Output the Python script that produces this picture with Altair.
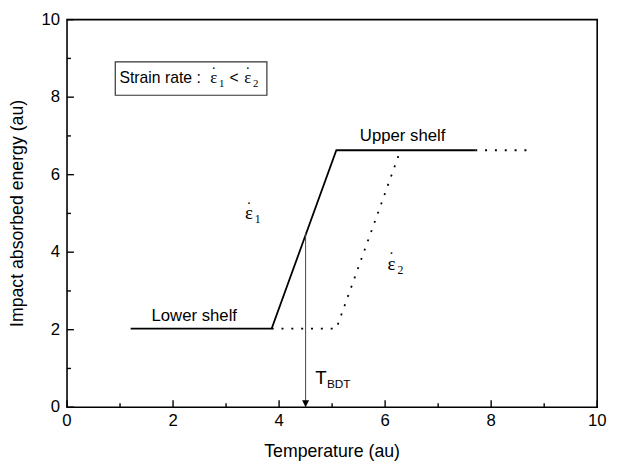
import altair as alt
import pandas as pd

# ---- data ----
solid_x = [1.2, 3.86, 5.08, 7.7]
solid_y = [2.03, 2.03, 6.63, 6.63]
dot_x = [3.86, 5.08, 6.29]
dot_y = [2.03, 2.03, 6.63]
dot2_x = [7.7, 8.8]
dot2_y = [6.63, 6.63]

tbdt_x = 4.5
tbdt_top = 4.5

all_ticks = [0, 1, 2, 3, 4, 5, 6, 7, 8, 9, 10]

x_title = ["Temperature (au)"]
y_title = ["Impact absorbed energy (au)"]

shelf_labels = ["Lower shelf", "Upper shelf"]
shelf_x = [2.4, 6.33]
shelf_y = [2.36, 7.0]

eps_x = [3.43, 6.12]
eps_y = [5.0, 3.7]
eps_sub = ["1", "2"]

box_x = [0.91, 3.77]
box_y = [8.05, 8.91]

W, H = 539, 394
FONT = "Liberation Sans"
SERIF = "Liberation Serif"

xs = alt.Scale(domain=[0, 10], nice=False)
ys = alt.Scale(domain=[0, 10], nice=False)
X = alt.X("x:Q", scale=xs, axis=None)
Y = alt.Y("y:Q", scale=ys, axis=None)

df_solid = pd.DataFrame({"x": solid_x, "y": solid_y, "o": range(len(solid_x))})
df_dot = pd.DataFrame({"x": dot_x, "y": dot_y, "o": range(len(dot_x))})
df_dot2 = pd.DataFrame({"x": dot2_x, "y": dot2_y, "o": range(len(dot2_x))})

solid = alt.Chart(df_solid).mark_line(color="black", strokeWidth=1.8).encode(
    x=X, y=Y, order="o:Q")
dotted = alt.Chart(df_dot).mark_line(color="black", strokeWidth=1.8, strokeDash=[2, 8]).encode(
    x=X, y=Y, order="o:Q")
dotted2 = alt.Chart(df_dot2).mark_line(color="black", strokeWidth=1.8, strokeDash=[2, 8]).encode(
    x=X, y=Y, order="o:Q")

# arrow T_BDT
df_arrow = pd.DataFrame({"x": [tbdt_x], "y": [tbdt_top], "y2": [0.0]})
arrow = alt.Chart(df_arrow).mark_rule(color="#444", strokeWidth=1).encode(
    x=X, y=Y, y2="y2:Q")
head = alt.Chart(pd.DataFrame({"x": [tbdt_x], "y": [0.0]})).mark_point(
    shape="M-1,-2L1,-2L0,0Z", filled=True, color="black", size=50, opacity=1).encode(
    x=X, y=Y)
df_t = pd.DataFrame({"x": [4.68], "y": [0.76]})
t_main = alt.Chart(df_t).mark_text(text="T", font=FONT, fontSize=19, align="left",
                                   baseline="middle", color="black").encode(x=X, y=Y)
t_sub = alt.Chart(df_t).mark_text(text="BDT", font=FONT, fontSize=12, align="left",
                                  baseline="middle", color="black", dx=12, dy=6).encode(x=X, y=Y)

# shelf labels
df_shelf = pd.DataFrame({"x": shelf_x, "y": shelf_y, "t": shelf_labels})
shelf = alt.Chart(df_shelf).mark_text(font=FONT, fontSize=17, color="black",
                                      baseline="middle").encode(x=X, y=Y, text="t:N")

# epsilon labels
df_eps = pd.DataFrame({"x": eps_x, "y": eps_y, "s": eps_sub})
eps = alt.Chart(df_eps).mark_text(text="ε", font=SERIF, fontSize=19, color="black",
                                  baseline="middle").encode(x=X, y=Y)
eps_dot = alt.Chart(df_eps).mark_text(text="·", font=SERIF, fontSize=15, color="black",
                                      baseline="middle", dy=-11).encode(x=X, y=Y)
eps_s = alt.Chart(df_eps).mark_text(font=SERIF, fontSize=12, color="black",
                                    baseline="middle", dx=9, dy=6).encode(x=X, y=Y, text="s:N")

# legend box
df_box = pd.DataFrame({"x": [box_x[0]], "x2": [box_x[1]], "y": [box_y[0]], "y2": [box_y[1]]})
box = alt.Chart(df_box).mark_rect(fill="white", stroke="#333", strokeWidth=1.2).encode(
    x=X, x2="x2:Q", y=Y, y2="y2:Q")
ly = (box_y[0] + box_y[1]) / 2
df_leg = pd.DataFrame({"x": [box_x[0] + 0.08], "y": [ly]})
leg_txt = alt.Chart(df_leg).mark_text(text="Strain rate :", font=FONT, fontSize=16,
                                      align="left", baseline="middle", color="black").encode(x=X, y=Y)
df_leps = pd.DataFrame({"x": [2.77, 3.41], "y": [ly, ly], "s": eps_sub})
leg_eps = alt.Chart(df_leps).mark_text(text="ε", font=SERIF, fontSize=17, color="black",
                                       baseline="middle").encode(x=X, y=Y)
leg_dot = alt.Chart(df_leps).mark_text(text="·", font=SERIF, fontSize=14, color="black",
                                       baseline="middle", dy=-10).encode(x=X, y=Y)
leg_sub = alt.Chart(df_leps).mark_text(font=SERIF, fontSize=11, color="black",
                                       baseline="middle", dx=8, dy=6).encode(x=X, y=Y, text="s:N")
df_lt = pd.DataFrame({"x": [3.15], "y": [ly]})
leg_lt = alt.Chart(df_lt).mark_text(text="<", font=FONT, fontSize=16, color="black",
                                    baseline="middle").encode(x=X, y=Y)

# inward ticks (one table, split into major / minor)
df_ticks = pd.DataFrame({"x": all_ticks, "y": all_ticks})
is_major = "datum.x % 2 == 0"
is_minor = "datum.x % 2 == 1"
xt_maj = alt.Chart(df_ticks).transform_filter(is_major).mark_rule(
    color="black", strokeWidth=1.4).encode(x=X, y=alt.value(H), y2=alt.value(H - 7))
xt_min = alt.Chart(df_ticks).transform_filter(is_minor).mark_rule(
    color="black", strokeWidth=1.4).encode(x=X, y=alt.value(H), y2=alt.value(H - 4))
yt_maj = alt.Chart(df_ticks).transform_filter(is_major).mark_rule(
    color="black", strokeWidth=1.4).encode(y=Y, x=alt.value(0), x2=alt.value(7))
yt_min = alt.Chart(df_ticks).transform_filter(is_minor).mark_rule(
    color="black", strokeWidth=1.4).encode(y=Y, x=alt.value(0), x2=alt.value(4))

# tick labels as text
xl = alt.Chart(df_ticks).transform_filter(is_major).mark_text(
    font=FONT, fontSize=17, color="black", baseline="top").encode(
    x=X, y=alt.value(H + 6), text=alt.Text("x:Q", format="d"))
yl = alt.Chart(df_ticks).transform_filter(is_major).mark_text(
    font=FONT, fontSize=17, color="black", baseline="middle", align="right").encode(
    y=Y, x=alt.value(-7), text=alt.Text("y:Q", format="d"))

# axis titles as text
xt = alt.Chart(pd.DataFrame({"t": x_title})).mark_text(
    font=FONT, fontSize=18, color="black", baseline="middle").encode(
    x=alt.value(W / 2), y=alt.value(H + 46), text="t:N")
yt = alt.Chart(pd.DataFrame({"t": y_title})).mark_text(
    font=FONT, fontSize=18, color="black", baseline="middle", angle=270).encode(
    x=alt.value(-50), y=alt.value(H / 2), text="t:N")

chart = alt.layer(
    solid, dotted, dotted2, arrow, head, t_main, t_sub, shelf, eps, eps_dot, eps_s,
    box, leg_txt, leg_eps, leg_dot, leg_sub, leg_lt,
    xt_maj, xt_min, yt_maj, yt_min, xl, yl, xt, yt,
).properties(
    width=W, height=H,
    background="white",
    autosize=alt.AutoSizeParams(type="none"),
    padding={"left": 60, "top": 8, "right": 12, "bottom": 60},
).configure_view(
    stroke="black", strokeWidth=1.6
)

chart.save("out.html", embed_options={"renderer": "svg", "actions": False})
